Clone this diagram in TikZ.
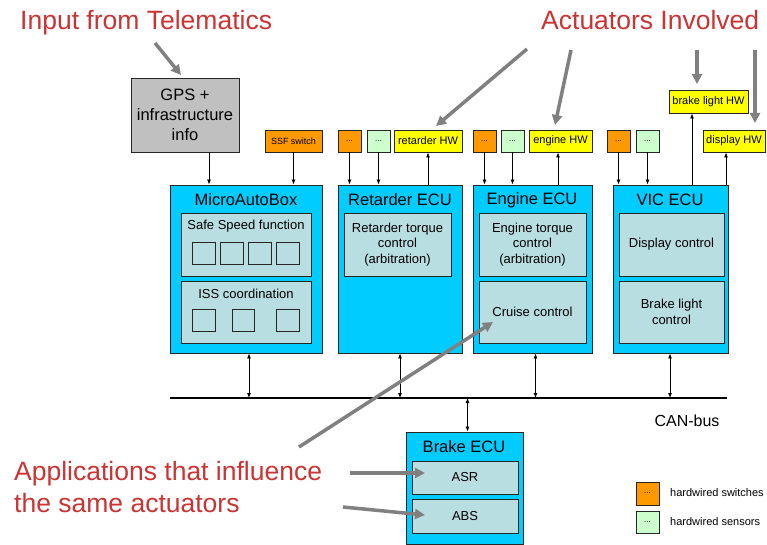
\documentclass[tikz,border=0pt]{standalone}
\usepackage{fontspec}
\setmainfont{Liberation Sans}
\usetikzlibrary{arrows.meta,calc}

\definecolor{ecuc}{RGB}{0,204,255}
\definecolor{funcc}{RGB}{185,222,226}
\definecolor{switchc}{RGB}{255,153,0}
\definecolor{sensorc}{RGB}{204,255,204}
\definecolor{hwc}{RGB}{255,255,0}
\definecolor{gpsc}{RGB}{192,192,192}
\definecolor{notec}{RGB}{204,51,51}
\definecolor{pointerc}{RGB}{128,128,128}

% box from corner (x1,y1) to corner (x2,y2): style, name, x1, y1, x2, y2, text
\newcommand{\bx}[7]{%
  \pgfmathsetmacro\bxcx{(#3+#5)/2}%
  \pgfmathsetmacro\bxcy{(#4+#6)/2}%
  \pgfmathsetmacro\bxw{#5-#3}%
  \pgfmathsetmacro\bxh{#6-#4}%
  \node[#1, minimum width=\bxw pt, minimum height=\bxh pt] (#2) at (\bxcx,\bxcy) {#7};}

\tikzset{
  basebox/.style={draw=black!85, line width=0.9pt, inner sep=0pt, align=center, text=black},
  ecubox/.style={basebox, fill=ecuc},
  funcbox/.style={basebox, fill=funcc, font=\fontsize{13}{15.5}\selectfont},
  slot/.style={basebox, fill=funcc},
  swbox/.style={basebox, fill=switchc, font=\fontsize{8}{9}\selectfont},
  snbox/.style={basebox, fill=sensorc, font=\fontsize{8}{9}\selectfont},
  hwbox/.style={basebox, fill=hwc, font=\fontsize{11}{12}\selectfont},
  gpsbox/.style={basebox, fill=gpsc, font=\fontsize{16.5}{20}\selectfont},
  ecutitle/.style={inner sep=0pt, font=\fontsize{16.5}{19}\selectfont},
  functitle/.style={inner sep=0pt, font=\fontsize{13}{15}\selectfont},
  legendtext/.style={inner sep=0pt, anchor=west, font=\fontsize{11}{13}\selectfont},
  note/.style={inner sep=0pt, anchor=base west, text=notec, font=\fontsize{26.5}{32}\selectfont},
  sig/.style={draw=black, line width=0.8pt, -{Latex[length=5pt,width=4pt]}},
  sigboth/.style={draw=black, line width=0.8pt, {Latex[length=5pt,width=4pt]}-{Latex[length=5pt,width=4pt]}},
  busline/.style={draw=black, line width=2pt},
  pointer/.style={draw=pointerc, line width=3.5pt, -{Triangle[length=10pt,width=10pt]}}
}

\begin{document}
\begin{tikzpicture}[x=1pt,y=-1pt]
\useasboundingbox (0,0) rectangle (767,545);
\fill[white] (0,0) rectangle (767,545);

% ---------- annotations ----------
\node[note] (telnote) at (20,30) {Input from Telematics};
\node[note] (actnote) at (541,30) {Actuators Involved};
\node[note] (appnote) at (14,480) {Applications that influence};
\node[note] (appnoteb) at (14,512) {the same actuators};

% ---------- telematics input ----------
\bx{gpsbox}{gps}{131}{78}{239}{152}{GPS +\\infrastructure\\info}
\bx{swbox, font=\fontsize{9}{10}\selectfont}{ssf}{265}{130}{322}{152}{SSF switch}

% ---------- MicroAutoBox ----------
\bx{ecubox}{mab}{170}{185}{322}{353}{}
\node[ecutitle] (mabt) at (246,200) {MicroAutoBox};
\bx{funcbox}{safe}{181}{213}{311}{276}{}
\node[functitle] (safet) at (246,226) {Safe Speed function};
\bx{slot}{sa}{192}{242}{215}{264}{}
\bx{slot}{sb}{220}{242}{243}{264}{}
\bx{slot}{sc}{248}{242}{271}{264}{}
\bx{slot}{sd}{276}{242}{299}{264}{}
\bx{funcbox}{iss}{181}{281}{311}{343}{}
\node[functitle] (isst) at (246,294) {ISS coordination};
\bx{slot}{ia}{192}{309}{215}{331}{}
\bx{slot}{ib}{232}{309}{254}{331}{}
\bx{slot}{ic}{276}{309}{299}{331}{}

% ---------- Retarder ECU ----------
\bx{ecubox}{ret}{338}{185}{462}{353}{}
\node[ecutitle] (rett) at (400,200) {Retarder ECU};
\bx{funcbox}{rettq}{344}{213}{451}{276}{Retarder torque\\control\\(arbitration)}
\bx{swbox}{retsw}{338}{130}{361}{152}{...}
\bx{snbox}{retsn}{367}{130}{390}{152}{...}
\bx{hwbox}{rethw}{394}{130}{462}{152}{retarder HW}

% ---------- Engine ECU ----------
\bx{ecubox}{eng}{473}{185}{592}{353}{}
\node[ecutitle] (engt) at (532,200) {Engine ECU};
\bx{funcbox}{engtq}{479}{213}{586}{276}{Engine torque\\control\\(arbitration)}
\bx{funcbox}{cruise}{479}{281}{586}{343}{Cruise control}
\bx{swbox}{engsw}{473}{130}{496}{152}{...}
\bx{snbox}{engsn}{501}{130}{524}{152}{...}
\bx{hwbox}{enghw}{529}{130}{592}{152}{engine HW}

% ---------- VIC ECU ----------
\bx{ecubox}{vic}{613}{185}{728}{353}{}
\node[ecutitle] (vict) at (670,200) {VIC ECU};
\bx{funcbox}{disp}{619}{213}{724}{276}{Display control}
\bx{funcbox}{blc}{619}{281}{724}{343}{Brake light\\control}
\bx{swbox}{vicsw}{607}{130}{630}{152}{...}
\bx{snbox}{vicsn}{636}{130}{659}{152}{...}
\bx{hwbox}{blhw}{669}{90}{748}{113}{brake light HW}
\bx{hwbox}{dhw}{703}{130}{765}{152}{display HW}

% ---------- Brake ECU ----------
\bx{ecubox}{brk}{406}{432}{523}{544}{}
\node[ecutitle] (brkt) at (464,447) {Brake ECU};
\bx{funcbox}{asr}{412}{461}{518}{494}{ASR}
\bx{funcbox}{abs}{412}{499}{518}{533}{ABS}

% ---------- legend ----------
\bx{swbox}{legsw}{636}{482}{659}{505}{...}
\bx{snbox}{legsn}{636}{511}{659}{533}{...}
\node[legendtext] (legswt) at (670,493) {hardwired switches};
\node[legendtext] (legsnt) at (670,522) {hardwired sensors};

% ---------- CAN bus ----------
\coordinate (canL) at (170,398);
\coordinate (canR) at (727,398);
\draw[busline] (canL) -- (canR);
\node[inner sep=0pt, font=\fontsize{16}{18}\selectfont] (canlabel) at (687,421) {CAN-bus};

% ---------- signals into / out of the ECUs ----------
\draw[sig] ([xshift=24pt]gps.south) -- ([xshift=24pt]gps.south |- mab.north);
\draw[sig] (ssf.south) -- (ssf.south |- mab.north);
\draw[sig] (retsw.south) -- (retsw.south |- ret.north);
\draw[sig] (retsn.south) -- (retsn.south |- ret.north);
\draw[sig] (rethw.south |- ret.north) -- (rethw.south);
\draw[sig] (engsw.south) -- (engsw.south |- eng.north);
\draw[sig] (engsn.south) -- (engsn.south |- eng.north);
\draw[sig] ([xshift=-2.5pt]enghw.south |- eng.north) -- ([xshift=-2.5pt]enghw.south);
\draw[sig] (vicsw.south) -- (vicsw.south |- vic.north);
\draw[sig] (vicsn.south) -- (vicsn.south |- vic.north);
\draw[sig] ([xshift=-16.5pt]blhw.south |- vic.north) -- ([xshift=-16.5pt]blhw.south);
\draw[sig] ([xshift=-8pt]dhw.south |- vic.north) -- ([xshift=-8pt]dhw.south);

% ---------- bus connections ----------
\draw[sigboth] ([xshift=3pt]mab.south) -- ([xshift=3pt]mab.south |- canL);
\draw[sigboth] (ret.south) -- (ret.south |- canL);
\draw[sigboth] ([xshift=3pt]eng.south) -- ([xshift=3pt]eng.south |- canL);
\draw[sigboth] ([xshift=-0.5pt]vic.south) -- ([xshift=-0.5pt]vic.south |- canL);
\draw[sigboth] ([xshift=3pt]brk.north |- canL) -- ([xshift=3pt]brk.north);

% ---------- pointer arrows ----------
\coordinate (telA) at (155,43);   \coordinate (telB) at (181,75);
\coordinate (actA) at (527,49);   \coordinate (actB) at (436,126);
\coordinate (actC) at (571,50);   \coordinate (actD) at (555,125);
\coordinate (actE) at (697,50);   \coordinate (actF) at (697,84);
\coordinate (actG) at (755,50);   \coordinate (actH) at (755,123);
\coordinate (appA) at (299,447);  \coordinate (appB) at (493,322);
\coordinate (asrA) at (350,473);  \coordinate (asrB) at (425,473);
\coordinate (absA) at (343,507);  \coordinate (absB) at (425,515);
\draw[pointer] (telA) -- (telB);
\draw[pointer] (actA) -- (actB);
\draw[pointer] (actC) -- (actD);
\draw[pointer] (actE) -- (actF);
\draw[pointer] (actG) -- (actH);
\draw[pointer] (appA) -- (appB);
\draw[pointer] (asrA) -- (asrB);
\draw[pointer] (absA) -- (absB);
\end{tikzpicture}
\end{document}
